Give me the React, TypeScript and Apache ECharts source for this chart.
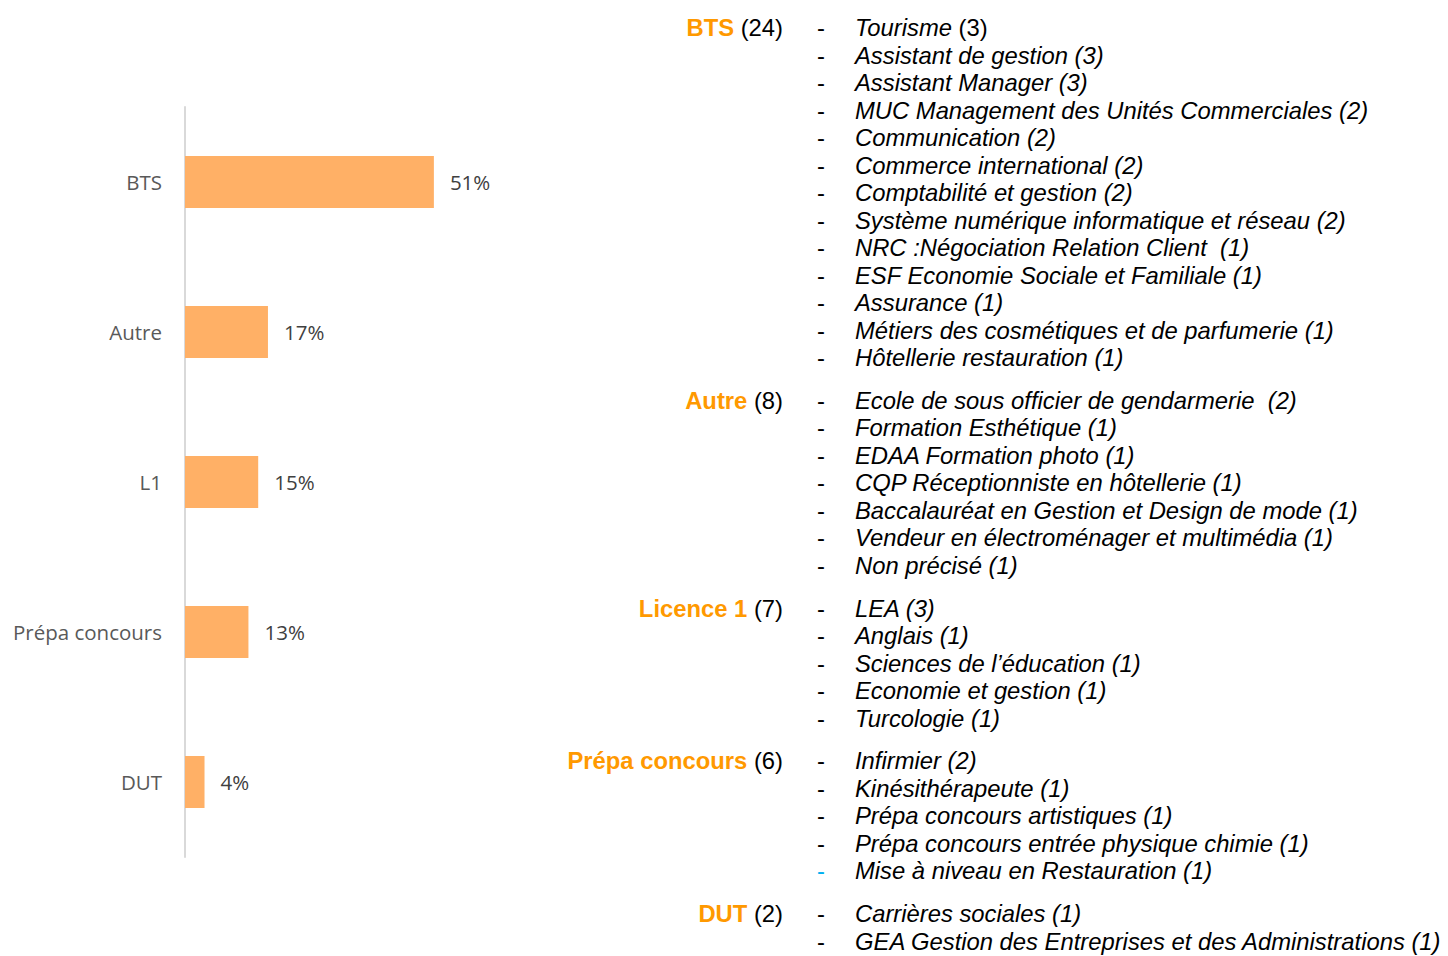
import React, { useEffect, useRef } from "react";
import * as echarts from "echarts";

const categories = ["BTS", "Autre", "L1", "Prépa concours", "DUT"];
const percentValues = [51, 17, 15, 13, 4];

const groupTitles = ["BTS", "Autre", "Licence 1", "Prépa concours", "DUT"];
const groupCounts = ["(24)", "(8)", "(7)", "(6)", "(2)"];

const btsItems = [
  "Tourisme|(3)",
  "Assistant de gestion (3)",
  "Assistant Manager (3)",
  "MUC Management des Unités Commerciales (2)",
  "Communication (2)",
  "Commerce international (2)",
  "Comptabilité et gestion (2)",
  "Système numérique informatique et réseau (2)",
  "NRC :Négociation Relation Client  (1)",
  "ESF Economie Sociale et Familiale (1)",
  "Assurance (1)",
  "Métiers des cosmétiques et de parfumerie (1)",
  "Hôtellerie restauration (1)",
];
const autreItems = [
  "Ecole de sous officier de gendarmerie  (2)",
  "Formation Esthétique (1)",
  "EDAA Formation photo (1)",
  "CQP Réceptionniste en hôtellerie (1)",
  "Baccalauréat en Gestion et Design de mode (1)",
  "Vendeur en électroménager et multimédia (1)",
  "Non précisé (1)",
];
const licenceItems = [
  "LEA (3)",
  "Anglais (1)",
  "Sciences de l’éducation (1)",
  "Economie et gestion (1)",
  "Turcologie (1)",
];
const prepaItems = [
  "Infirmier (2)",
  "Kinésithérapeute (1)",
  "Prépa concours artistiques (1)",
  "Prépa concours entrée physique chimie (1)",
  "*Mise à niveau en Restauration (1)",
];
const dutItems = [
  "Carrières sociales (1)",
  "GEA Gestion des Entreprises et des Administrations (1)",
];
const groupItems = [btsItems, autreItems, licenceItems, prepaItems, dutItems];

const FONT_R = "'Liberation Sans', Arial, sans-serif";
const FONT_L = "'Open Sans', sans-serif";
const FS = 23.8;
const LH = 22;

export default function App() {
  const ref = useRef<HTMLDivElement>(null);
  useEffect(() => {
    if (!ref.current) return;
    const chart = echarts.init(ref.current, null, { renderer: "svg" });

    const graphics: any[] = [];
    let y = 27.5;
    const lineH = 27.5;
    const groupGap = 15.3;
    groupItems.forEach((items, gi) => {
      graphics.push({
        type: "text",
        x: 783,
        y,
        style: {
          text: `{t|${groupTitles[gi]}}{c| ${groupCounts[gi]}}`,
          align: "right",
          verticalAlign: "middle",
          rich: {
            t: { fontFamily: FONT_R, fontSize: FS, lineHeight: LH, fontWeight: "bold", fill: "#FF9900" },
            c: { fontFamily: FONT_R, fontSize: FS, lineHeight: LH, fill: "#000000" },
          },
        },
      });
      items.forEach((raw) => {
        const cyan = raw.startsWith("*");
        const txt = cyan ? raw.slice(1) : raw;
        graphics.push({
          type: "text",
          x: 817,
          y,
          style: {
            text: "-",
            fontFamily: FONT_R,
            fontSize: FS,
            lineHeight: LH,
            fill: cyan ? "#00B0F0" : "#000000",
            verticalAlign: "middle",
          },
        });
        const parts = txt.split("|");
        let text: string;
        if (parts.length > 1) {
          text = `{i|${parts[0]}}{n| ${parts[1]}}`;
        } else {
          text = `{i|${txt}}`;
        }
        graphics.push({
          type: "text",
          x: 855,
          y,
          style: {
            text,
            verticalAlign: "middle",
            rich: {
              i: { fontFamily: FONT_R, fontSize: FS, lineHeight: LH, fontStyle: "italic", fill: "#000000" },
              n: { fontFamily: FONT_R, fontSize: FS, lineHeight: LH, fill: "#000000" },
            },
          },
        });
        y += lineH;
      });
      y += groupGap;
    });

    chart.setOption({
      animation: false,
      grid: { left: 185, top: 107, width: 488, height: 750, containLabel: false },
      xAxis: {
        type: "value",
        min: 0,
        max: 100,
        show: false,
      },
      yAxis: {
        type: "category",
        data: categories,
        inverse: true,
        axisLine: { show: true, lineStyle: { color: "#D9D9D9", width: 2 } },
        axisTick: { show: false },
        axisLabel: {
          margin: 23,
          fontFamily: FONT_L,
          fontSize: 20.5,
          color: "#595959",
        },
      },
      series: [
        {
          type: "bar",
          data: percentValues,
          barWidth: 52,
          itemStyle: { color: "#FFB066" },
          label: {
            show: true,
            position: "right",
            distance: 16,
            formatter: "{c}%",
            fontFamily: FONT_L,
            fontSize: 20.5,
            color: "#404040",
          },
        },
      ],
      graphic: graphics,
    });
    return () => chart.dispose();
  }, []);
  return (
    <div
      ref={ref}
      style={{ position: "fixed", left: 0, top: 0, width: 1448, height: 956, background: "#fff" }}
    />
  );
}
